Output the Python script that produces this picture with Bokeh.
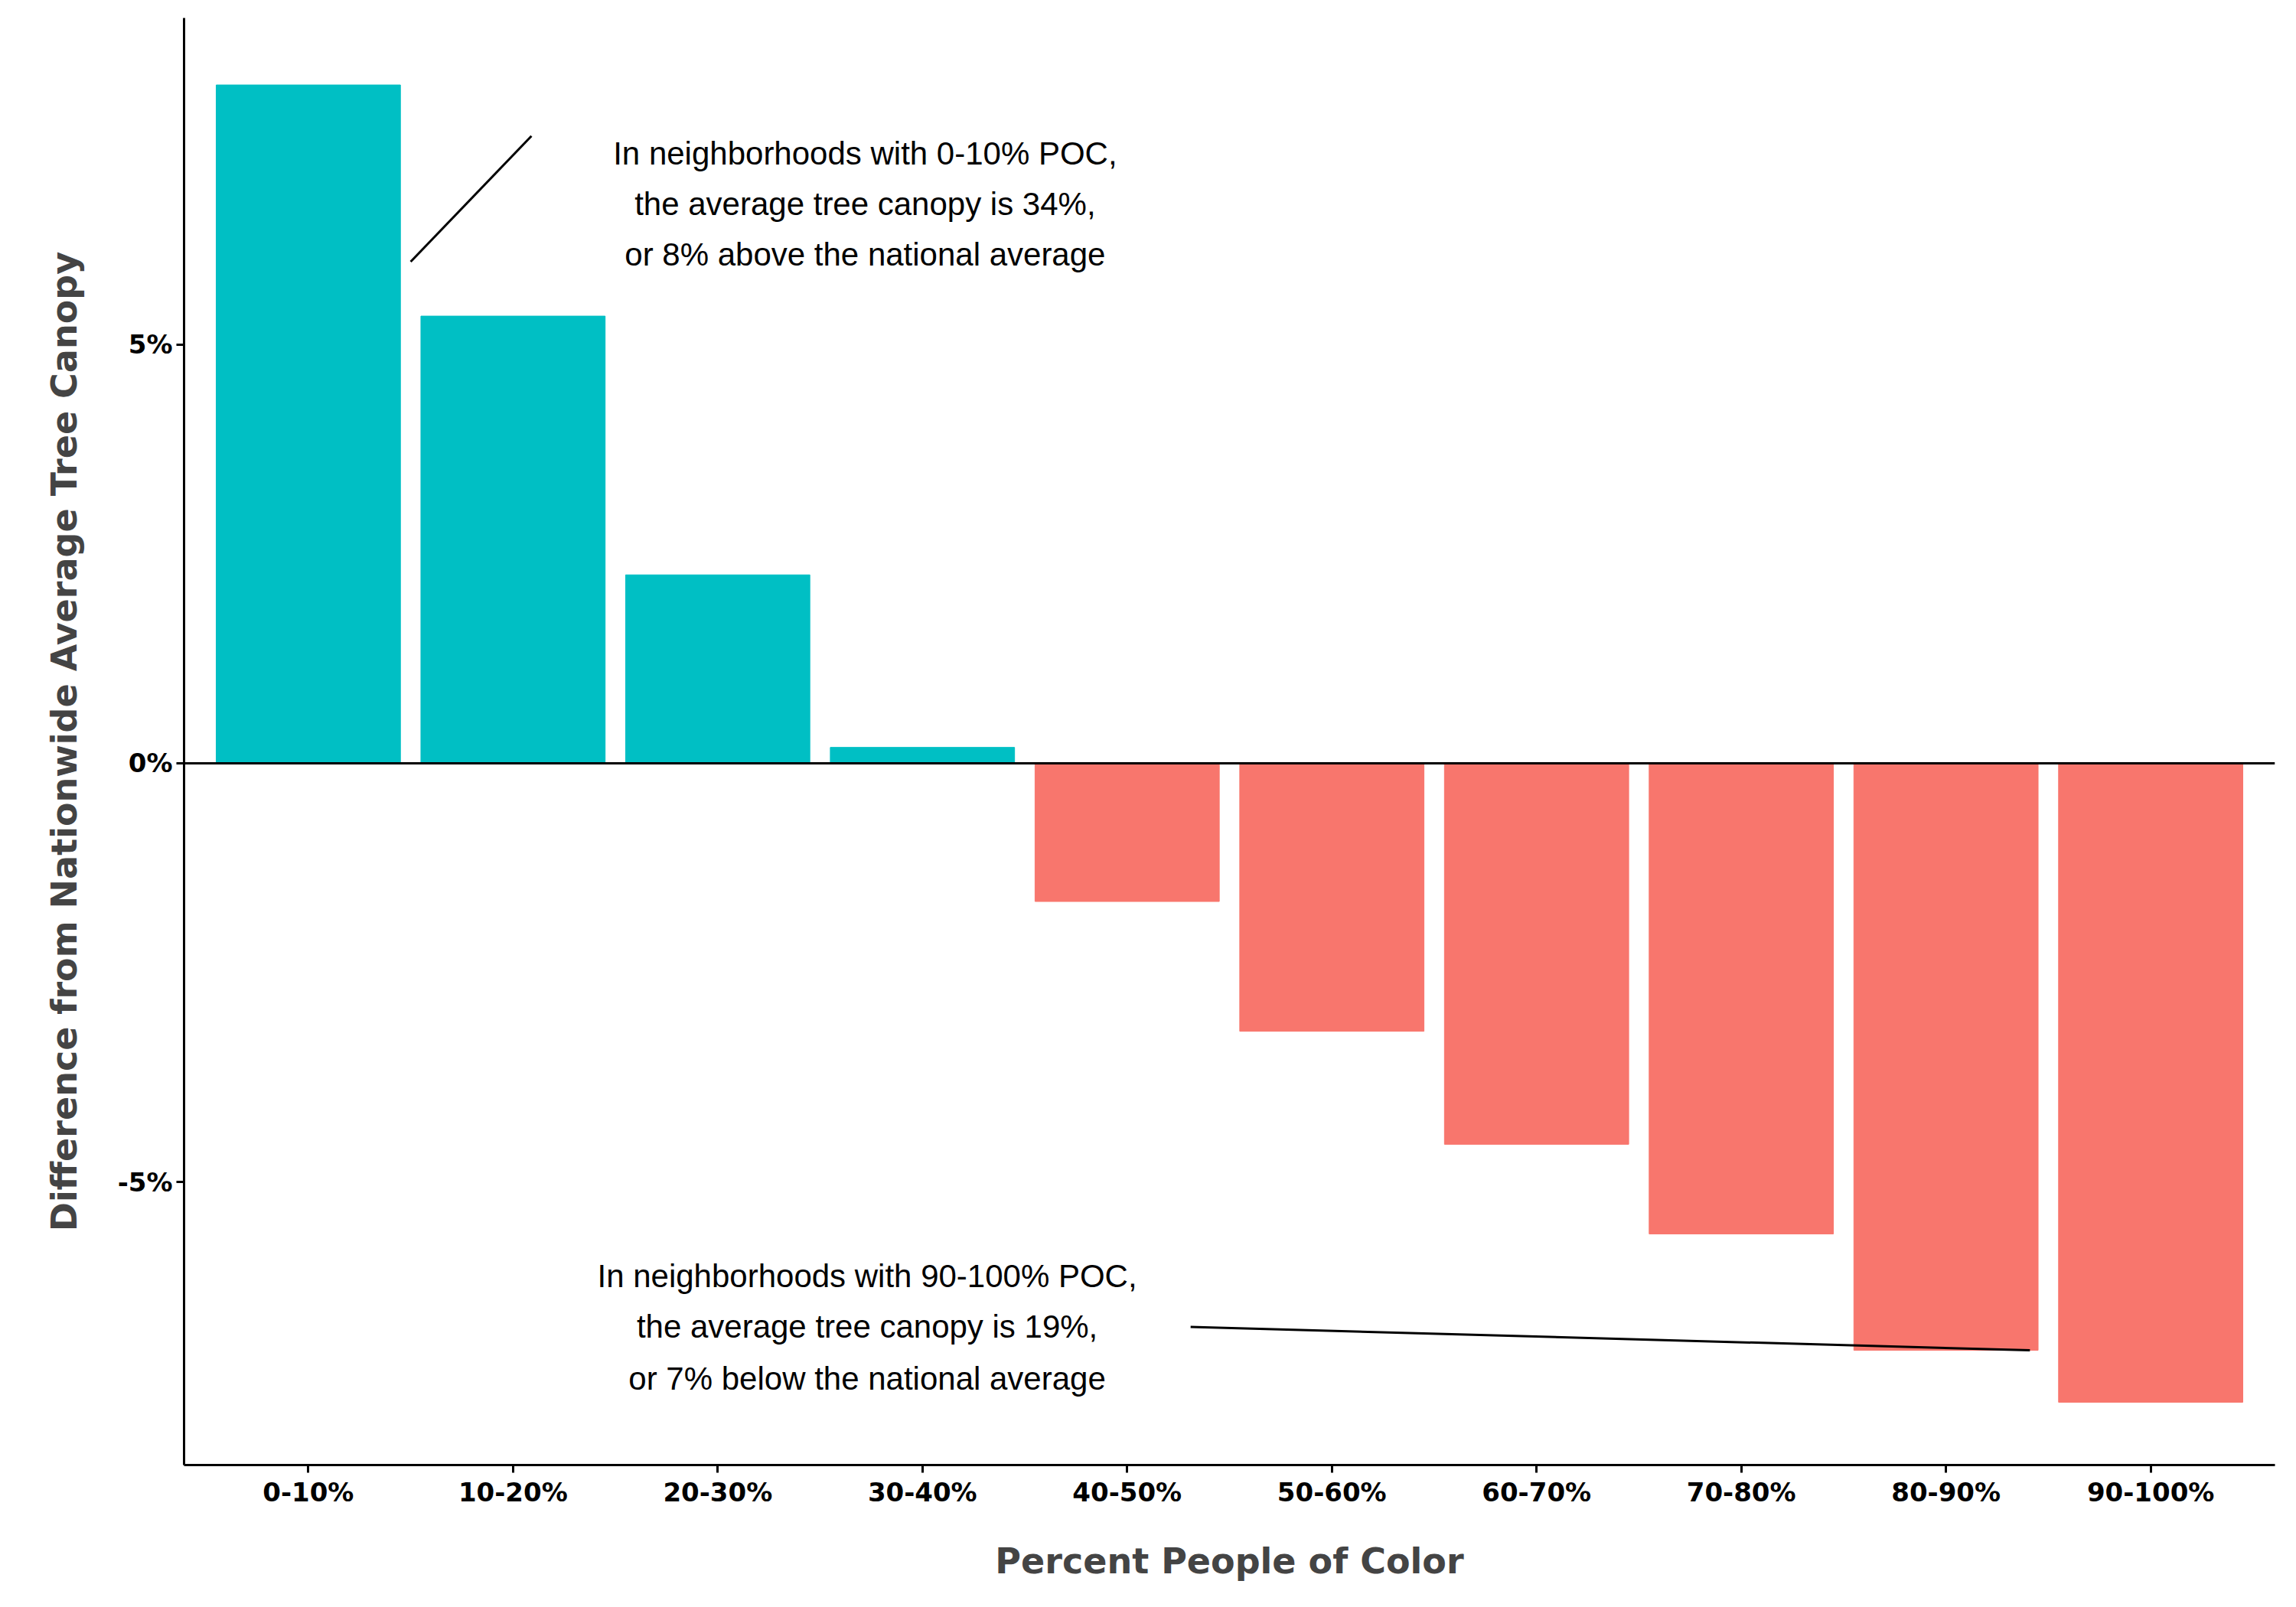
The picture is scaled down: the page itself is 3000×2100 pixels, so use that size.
from bokeh.plotting import figure
from bokeh.models import Range1d, FixedTicker, Span
from bokeh.embed import file_html
from bokeh.resources import INLINE

categories = ["0-10%", "10-20%", "20-30%", "30-40%", "40-50%",
              "50-60%", "60-70%", "70-80%", "80-90%", "90-100%"]
diff = [8.1, 5.34, 2.25, 0.19, -1.65, -3.2, -4.55, -5.62, -7.01, -7.63]
y_ticks = [-5, 0, 5]

note_top = ["In neighborhoods with 0-10% POC,",
            "the average tree canopy is 34%,",
            "or 8% above the national average"]
note_bottom = ["In neighborhoods with 90-100% POC,",
               "the average tree canopy is 19%,",
               "or 7% below the national average"]

xs = list(range(1, len(categories) + 1))
colors = ["#00BFC4" if v >= 0 else "#F8766D" for v in diff]

p = figure(width=2984, height=2084, output_backend="svg", toolbar_location=None,
           min_border_left=240, min_border_right=12, min_border_top=23,
           min_border_bottom=170)
p.x_range = Range1d(0.393, 10.607)
p.y_range = Range1d(-8.38, 8.9)

p.vbar(x=xs, top=diff, bottom=0, width=0.9, color=colors)
p.add_layout(Span(location=0, dimension="width", line_color="black", line_width=3))

# annotations
p.line([1.5, 2.09], [5.99, 7.49], line_color="black", line_width=3)
p.line([5.31, 9.41], [-6.73, -7.01], line_color="black", line_width=3)
p.text(x=[3.72] * 3, y=[7.28, 6.68, 6.08], text=note_top,
       text_align="center", text_baseline="middle",
       text_font_size="42px", text_font={"value": "Liberation Sans"})
p.text(x=[3.73] * 3, y=[-6.12, -6.73, -7.35], text=note_bottom,
       text_align="center", text_baseline="middle",
       text_font_size="42px", text_font={"value": "Liberation Sans"})

p.grid.visible = False
p.outline_line_color = None

p.xaxis.ticker = FixedTicker(ticks=xs)
p.xaxis.major_label_overrides = {x: c for x, c in zip(xs, categories)}
p.yaxis.ticker = FixedTicker(ticks=y_ticks)
p.yaxis.major_label_overrides = {t: f"{t}%" for t in y_ticks}
p.axis.minor_tick_line_color = None
for ax in (p.xaxis, p.yaxis):
    ax.axis_line_width = 3
    ax.major_tick_line_width = 3
    ax.major_tick_out = 10
    ax.major_tick_in = 0
    ax.major_label_text_font = "DejaVu Sans"
    ax.major_label_text_font_style = "bold"
    ax.major_label_text_font_size = "34px"
    ax.major_label_text_color = "black"
    ax.axis_label_text_font = "DejaVu Sans"
    ax.axis_label_text_font_style = "bold"
    ax.axis_label_text_font_size = "46px"
p.xaxis.axis_label = "Percent People of Color"
p.yaxis.axis_label = "Difference from Nationwide Average Tree Canopy"
p.xaxis.axis_label_standoff = 40
p.yaxis.axis_label_standoff = 40

open("out.html", "w").write(file_html(p, INLINE))
